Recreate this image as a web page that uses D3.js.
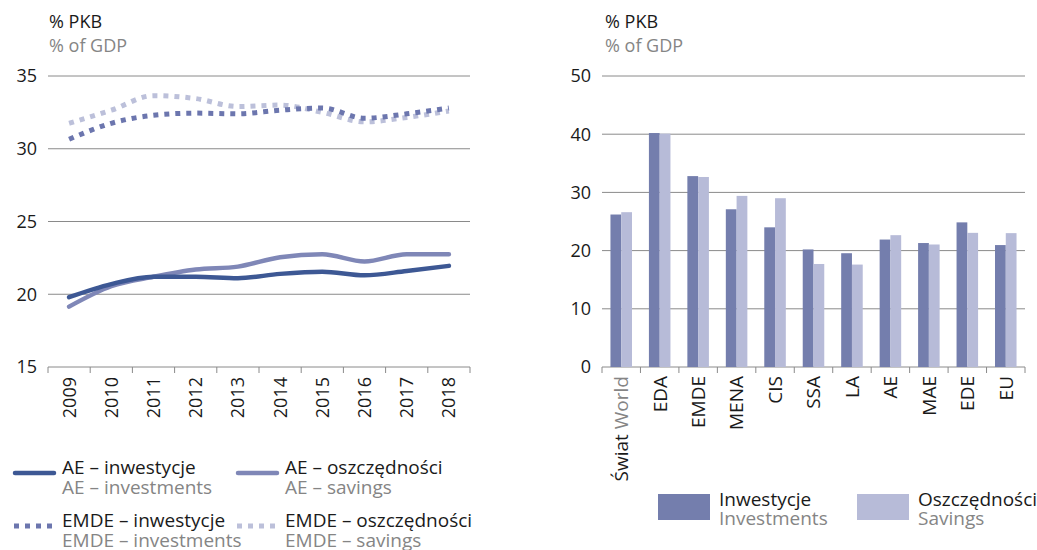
<!DOCTYPE html>
<html>
<head>
<meta charset="utf-8">
<script src="https://d3js.org/d3.v7.min.js"></script>
<style>
  body { margin: 0; background: #fff; }
  svg { font-family: "Open Sans", sans-serif; }
  .grid { stroke: #8a8a8a; stroke-width: 1; }
  .blk { fill: #1a1a1a; }
  .gry { fill: #858585; }
</style>
</head>
<body>
<div id="chart"></div>
<script>
// left panel: investment and savings, % of GDP
var years = ["2009", "2010", "2011", "2012", "2013", "2014", "2015", "2016", "2017", "2018"];
var aeInv = [19.8, 20.7, 21.2, 21.2, 21.1, 21.4, 21.55, 21.3, 21.6, 21.95];
var aeSav = [19.15, 20.55, 21.2, 21.7, 21.9, 22.55, 22.75, 22.25, 22.75, 22.75];
var emdeInv = [30.65, 31.75, 32.3, 32.45, 32.4, 32.65, 32.8, 32.1, 32.4, 32.8];
var emdeSav = [31.75, 32.65, 33.65, 33.45, 32.9, 33.0, 32.5, 31.85, 32.15, 32.6];
var leftTicks = [15, 20, 25, 30, 35];

// right panel: regions
var regions = ["Świat World", "EDA", "EMDE", "MENA", "CIS", "SSA", "LA", "AE", "MAE", "EDE", "EU"];
var regInv = [26.2, 40.2, 32.8, 27.1, 24.0, 20.2, 19.55, 21.9, 21.3, 24.85, 20.95];
var regSav = [26.6, 40.1, 32.65, 29.4, 29.0, 17.7, 17.6, 22.65, 21.05, 23.05, 23.0];
var rightTicks = [0, 10, 20, 30, 40, 50];

var lineSeries = [
    { pl: "AE – inwestycje", en: "AE – investments", values: aeInv, color: "#3d5894", dash: null },
    { pl: "AE – oszczędności", en: "AE – savings", values: aeSav, color: "#7f87b7", dash: null },
    { pl: "EMDE – inwestycje", en: "EMDE – investments", values: emdeInv, color: "#6c76ae", dash: "5,6" },
    { pl: "EMDE – oszczędności", en: "EMDE – savings", values: emdeSav, color: "#bcc0da", dash: "5,6" }
];

var w = 1037, h = 550;
var svg = d3.select("#chart").append("svg").attr("width", w).attr("height", h);

// ---------- left chart ----------
var lx = d3.scaleBand().domain(years).range([48, 470]).padding(0);
var ly = d3.scaleLinear().domain([15, 35]).range([367, 76]);

var left = svg.append("g");

left.append("text").attr("class", "blk").attr("x", 49).attr("y", 28)
    .style("font-size", "18px").text("% PKB");
left.append("text").attr("class", "gry").attr("x", 49).attr("y", 52)
    .style("font-size", "18px").text("% of GDP");

left.selectAll(".grid").data(leftTicks).enter().append("line")
    .attr("class", "grid")
    .attr("x1", 48).attr("x2", 470)
    .attr("y1", function(d) { return ly(d); })
    .attr("y2", function(d) { return ly(d); });

left.selectAll(".ytick").data(leftTicks).enter().append("text")
    .attr("class", "blk")
    .attr("x", 37).attr("y", function(d) { return ly(d); })
    .attr("dy", "0.36em")
    .attr("text-anchor", "end")
    .style("font-size", "18px")
    .text(function(d) { return d; });

// tick marks at band edges
var lEdges = years.map(function(d) { return lx(d); }).concat([lx.range()[1]]);
left.selectAll(".xtick").data(lEdges).enter().append("line")
    .attr("class", "grid")
    .attr("x1", function(d) { return d; }).attr("x2", function(d) { return d; })
    .attr("y1", ly(15)).attr("y2", ly(15) + 6);

left.selectAll(".xlab").data(years).enter().append("text")
    .attr("class", "blk")
    .attr("text-anchor", "end")
    .attr("dy", "0.36em")
    .attr("transform", function(d) {
        return "translate(" + (lx(d) + lx.bandwidth() / 2) + "," + (ly(15) + 10) + ") rotate(-90)";
    })
    .style("font-size", "18px")
    .text(function(d) { return d; });

var line = d3.line()
    .x(function(d, i) { return lx(years[i]) + lx.bandwidth() / 2; })
    .y(function(d) { return ly(d); })
    .curve(d3.curveMonotoneX);

// draw savings first so investment lines sit on top like the original
[1, 0, 3, 2].forEach(function(k) {
    var s = lineSeries[k];
    left.append("path")
        .datum(s.values)
        .attr("fill", "none")
        .attr("stroke", s.color)
        .attr("stroke-width", s.dash ? 5 : 4.5)
        .attr("stroke-linecap", s.dash ? "butt" : "round")
        .attr("stroke-dasharray", s.dash)
        .attr("d", line);
});

// legend left
var legPos = [
    { x: 14, y: 474 },
    { x: 237, y: 474 },
    { x: 14, y: 527 },
    { x: 237, y: 527 }
];
lineSeries.forEach(function(s, i) {
    var p = legPos[i];
    var g = left.append("g").attr("transform", "translate(" + p.x + "," + p.y + ")");
    g.append("line")
        .attr("x1", s.dash ? 0 : 1).attr("x2", s.dash ? 41 : 40)
        .attr("y1", -1).attr("y2", -1)
        .attr("stroke", s.color)
        .attr("stroke-width", s.dash ? 5 : 4.5)
        .attr("stroke-linecap", s.dash ? "butt" : "round")
        .attr("stroke-dasharray", s.dash);
    g.append("text").attr("class", "blk").attr("x", 48).attr("y", 0)
        .style("font-size", "19px").text(s.pl);
    g.append("text").attr("class", "gry").attr("x", 48).attr("y", 20)
        .style("font-size", "19px").text(s.en);
});

// ---------- right chart ----------
var rx = d3.scaleBand().domain(regions).range([602, 1025]).padding(0);
var rxBars = d3.scaleBand().domain(regions).range([602, 1025]).paddingInner(0.44).paddingOuter(0.22);
var rxIn = d3.scaleBand().domain(["inv", "sav"]).range([0, rxBars.bandwidth()]);
var ry = d3.scaleLinear().domain([0, 50]).range([367, 76]);

var right = svg.append("g");

right.append("text").attr("class", "blk").attr("x", 605).attr("y", 28)
    .style("font-size", "18px").text("% PKB");
right.append("text").attr("class", "gry").attr("x", 605).attr("y", 52)
    .style("font-size", "18px").text("% of GDP");

right.selectAll(".grid").data(rightTicks).enter().append("line")
    .attr("class", "grid")
    .attr("x1", 602).attr("x2", 1025)
    .attr("y1", function(d) { return ry(d); })
    .attr("y2", function(d) { return ry(d); });

right.selectAll(".ytick").data(rightTicks).enter().append("text")
    .attr("class", "blk")
    .attr("x", 591).attr("y", function(d) { return ry(d); })
    .attr("dy", "0.36em")
    .attr("text-anchor", "end")
    .style("font-size", "18px")
    .text(function(d) { return d; });

var rEdges = regions.map(function(d) { return rx(d); }).concat([rx.range()[1]]);
right.selectAll(".xtick").data(rEdges).enter().append("line")
    .attr("class", "grid")
    .attr("x1", function(d) { return d; }).attr("x2", function(d) { return d; })
    .attr("y1", ry(0)).attr("y2", ry(0) + 6);

var barData = regions.map(function(r, i) {
    return { region: r, vals: [{ k: "inv", v: regInv[i] }, { k: "sav", v: regSav[i] }] };
});
var barColor = { inv: "#747ead", sav: "#b7bbd8" };

var groups = right.selectAll(".grp").data(barData).enter().append("g")
    .attr("transform", function(d) { return "translate(" + rxBars(d.region) + ",0)"; });
groups.selectAll("rect").data(function(d) { return d.vals; }).enter().append("rect")
    .attr("x", function(d) { return rxIn(d.k); })
    .attr("width", rxIn.bandwidth())
    .attr("y", function(d) { return ry(d.v); })
    .attr("height", function(d) { return ry(0) - ry(d.v); })
    .attr("fill", function(d) { return barColor[d.k]; });

var rl = right.selectAll(".xlab").data(regions).enter().append("text")
    .attr("class", "blk")
    .attr("text-anchor", "end")
    .attr("dy", "0.36em")
    .attr("transform", function(d) {
        return "translate(" + (rx(d) + rx.bandwidth() / 2) + "," + (ry(0) + 9) + ") rotate(-90)";
    })
    .style("font-size", "19px");
rl.each(function(d) {
    var t = d3.select(this);
    if (d === "Świat World") {
        t.append("tspan").text("Świat ");
        t.append("tspan").style("fill", "#858585").text("World");
    } else {
        t.text(d);
    }
});

// legend right
var rLeg = [
    { x: 658, pl: "Inwestycje", en: "Investments", color: barColor.inv },
    { x: 857, pl: "Oszczędności", en: "Savings", color: barColor.sav }
];
rLeg.forEach(function(l) {
    var g = right.append("g").attr("transform", "translate(" + l.x + ",494)");
    g.append("rect").attr("width", 52).attr("height", 26).attr("fill", l.color);
    g.append("text").attr("class", "blk").attr("x", 61).attr("y", 12)
        .style("font-size", "19px").text(l.pl);
    g.append("text").attr("class", "gry").attr("x", 61).attr("y", 31)
        .style("font-size", "19px").text(l.en);
});
</script>
</body>
</html>
